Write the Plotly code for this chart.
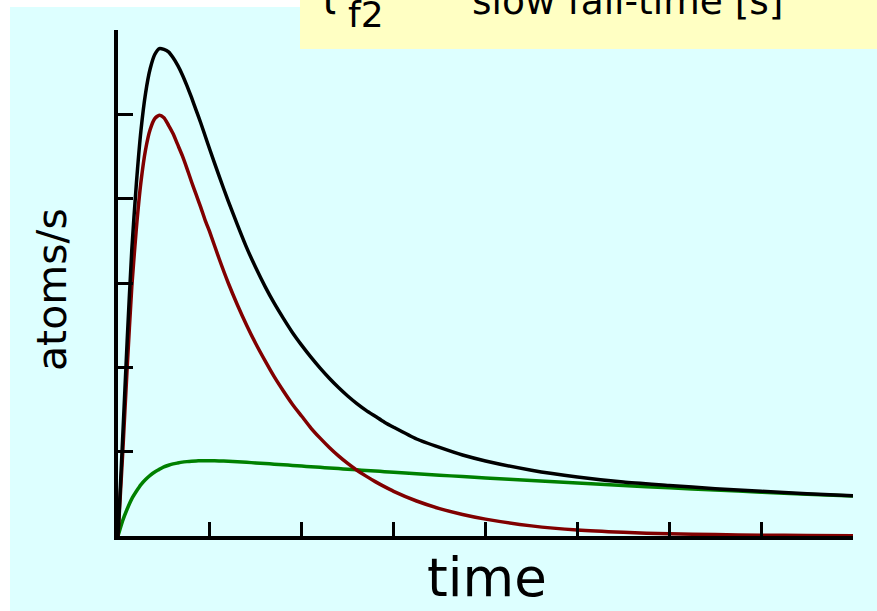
import plotly.graph_objects as go

# ---- data ----
time = [0, 0.05, 0.1, 0.15, 0.2, 0.25, 0.3, 0.35, 0.4, 0.45,
        0.5, 0.55, 0.6, 0.65, 0.7, 0.75, 0.8, 0.85, 0.9, 0.95,
        1.0, 1.1, 1.2, 1.3, 1.4, 1.5, 1.6, 1.7, 1.8, 1.9,
        2.0, 2.1, 2.2, 2.3, 2.4, 2.5, 2.6, 2.7, 2.8, 2.9, 3.0,
        3.25, 3.5, 3.75, 4.0, 4.5, 5.0, 5.5, 6.0, 6.5, 7.0, 7.5, 8.0]
fast = [0, 0.96, 2.0, 2.95, 3.65, 4.2, 4.58, 4.82, 4.95, 4.99,
        4.96, 4.87, 4.77, 4.64, 4.51, 4.36, 4.20, 4.05, 3.90, 3.74,
        3.60, 3.29, 3.00, 2.74, 2.50, 2.28, 2.08, 1.89, 1.72, 1.56,
        1.42, 1.28, 1.16, 1.05, 0.95, 0.86, 0.78, 0.71, 0.645, 0.585, 0.53,
        0.415, 0.325, 0.255, 0.20, 0.12, 0.07, 0.043, 0.026, 0.017, 0.01, 0.006, 0.004]
slow = [0, 0.18, 0.32, 0.44, 0.53, 0.61, 0.67, 0.72, 0.76, 0.79,
        0.82, 0.839, 0.855, 0.866, 0.876, 0.882, 0.887, 0.890, 0.892, 0.892,
        0.8925, 0.89, 0.886, 0.88, 0.874, 0.866, 0.859, 0.852, 0.845, 0.837,
        0.829, 0.822, 0.814, 0.807, 0.799, 0.792, 0.785, 0.777, 0.770, 0.763, 0.756,
        0.738, 0.721, 0.705, 0.688, 0.657, 0.627, 0.598, 0.571, 0.545, 0.52, 0.496, 0.474]
total = [0, 1.14, 2.32, 3.39, 4.18, 4.81, 5.25, 5.54, 5.71, 5.78,
         5.77, 5.74, 5.67, 5.58, 5.47, 5.34, 5.20, 5.05, 4.90, 4.74,
         4.58, 4.27, 3.97, 3.69, 3.42, 3.18, 2.96, 2.76, 2.58, 2.41,
         2.26, 2.12, 1.99, 1.87, 1.76, 1.66, 1.57, 1.49, 1.42, 1.35, 1.29,
         1.15, 1.05, 0.96, 0.89, 0.78, 0.70, 0.64, 0.60, 0.56, 0.53, 0.50, 0.478]

x_ticks = [1, 2, 3, 4, 5, 6, 7, 8]
y_ticks = [1, 2, 3, 4, 5, 6]
x_label = "time"
y_label = "atoms/s"
box_symbol = "τ"
box_sub = "f2"
box_text = "slow fall-time [s]"

W, H = 877, 611
L, R, T, B = 118, 24, 30, 75
pw, ph = W - L - R, H - T - B


def px(xp):
    return (xp - L) / pw


def py(yp):
    return (H - B - yp) / ph


fig = go.Figure()
for vals, col in [(slow, "#008000"), (fast, "#800000"), (total, "#000000")]:
    fig.add_trace(go.Scatter(x=time, y=vals, mode="lines",
                             line=dict(color=col, width=3.5, shape="spline", smoothing=0.6),
                             hoverinfo="skip", showlegend=False))

axis_common = dict(showline=True, linecolor="black", linewidth=4, ticks="inside",
                   tickcolor="black", tickwidth=3, showticklabels=False,
                   showgrid=False, zeroline=False, mirror=False)
fig.update_xaxes(range=[0, 8], tickvals=x_ticks, ticklen=14, **axis_common)
fig.update_yaxes(range=[0, 6], tickvals=y_ticks, ticklen=15, **axis_common)

shapes = [
    dict(type="rect", xref="paper", yref="paper", x0=px(10), x1=px(W + 5), y0=py(H + 5), y1=py(7),
         fillcolor="#DDFFFF", line=dict(width=0), layer="below"),
    dict(type="rect", xref="paper", yref="paper", x0=px(300), x1=px(W + 5), y0=py(49), y1=py(-5),
         fillcolor="#FFFFC3", line=dict(width=0), layer="below"),
]

font = "DejaVu Sans"
annotations = [
    dict(text=x_label, xref="paper", yref="paper", x=px(487), y=py(577), xanchor="center",
         yanchor="middle", showarrow=False, font=dict(family=font, size=53, color="black")),
    dict(text=y_label, xref="paper", yref="paper", x=px(52), y=py(290), xanchor="center",
         yanchor="middle", textangle=-90, showarrow=False,
         font=dict(family=font, size=41, color="black")),
    dict(text=box_symbol, xref="paper", yref="paper", x=px(328), y=py(25), xanchor="center",
         yanchor="bottom", showarrow=False, font=dict(family=font, size=40, color="black")),
    dict(text=box_sub, xref="paper", yref="paper", x=px(366), y=py(37), xanchor="center",
         yanchor="bottom", showarrow=False, font=dict(family=font, size=36, color="black")),
    dict(text=box_text, xref="paper", yref="paper", x=px(470), y=py(25), xanchor="left",
         yanchor="bottom", showarrow=False, font=dict(family=font, size=37.5, color="black")),
]

fig.update_layout(width=W, height=H, autosize=False,
                  margin=dict(l=L, r=R, t=T, b=B, pad=0),
                  paper_bgcolor="white", plot_bgcolor="rgba(0,0,0,0)",
                  shapes=shapes, annotations=annotations, showlegend=False)

fig.write_html("out.html", config={"displayModeBar": False, "staticPlot": True})

# remove the browser's default body margin so the figure sits at the page origin
with open("out.html", encoding="utf-8") as fh:
    page = fh.read()
page = page.replace("<body>", '<body style="margin:0;padding:0;overflow:hidden">', 1)
with open("out.html", "w", encoding="utf-8") as fh:
    fh.write(page)
